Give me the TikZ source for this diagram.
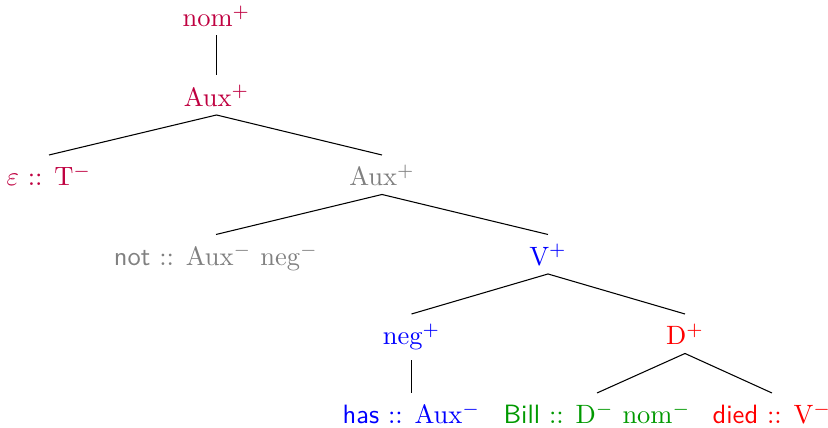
\documentclass[tikz,border=0pt]{standalone}
\usepackage{xcolor}
\definecolor{cpurple}{rgb}{0.75,0,0.25}
\definecolor{cgreen}{rgb}{0,0.6,0}
\begin{document}
\begin{tikzpicture}[x=0.3774pt,y=-0.3774pt,
  tn/.style={anchor=base,inner sep=0pt,text height=11.5pt,text depth=3pt},
  edge/.style={draw=black,line width=0.4pt}]
\useasboundingbox (0,0) rectangle (828,428);
\node[tn,text=cpurple] (nom) at (216.5,27) {nom$^+$};
\node[tn,text=cpurple] (aux1) at (216.5,106.5) {Aux$^+$};
\node[tn,text=cpurple] (eps) at (49,186) {$\varepsilon$ :: T$^-$};
\node[tn,text=gray] (aux2) at (382,186) {Aux$^+$};
\node[tn,text=gray] (not) at (216,265.5) {\textsf{not} :: Aux$^-$ neg$^-$};
\node[tn,text=blue] (v) at (548,265.5) {V$^+$};
\node[tn,text=blue,text depth=5.5pt] (neg) at (411.5,345) {neg$^+$};
\node[tn,text=red] (d) at (685,345) {D$^+$};
\node[tn,text=blue] (has) at (411.5,424) {\textsf{has} :: Aux$^-$};
\node[tn,text=cgreen] (bill) at (597,424) {\textsf{Bill} :: D$^-$ nom$^-$};
\node[tn,text=red] (died) at (772,424) {\textsf{died} :: V$^-$};
\draw[edge] (nom.south) -- (aux1.north);
\draw[edge] (aux1.south) -- (eps.north);
\draw[edge] (aux1.south) -- (aux2.north);
\draw[edge] (aux2.south) -- (not.north);
\draw[edge] (aux2.south) -- (v.north);
\draw[edge] (v.south) -- (neg.north);
\draw[edge] (v.south) -- (d.north);
\draw[edge] (neg.south) -- (has.north);
\draw[edge] (d.south) -- (bill.north);
\draw[edge] (d.south) -- (died.north);
\end{tikzpicture}
\end{document}
